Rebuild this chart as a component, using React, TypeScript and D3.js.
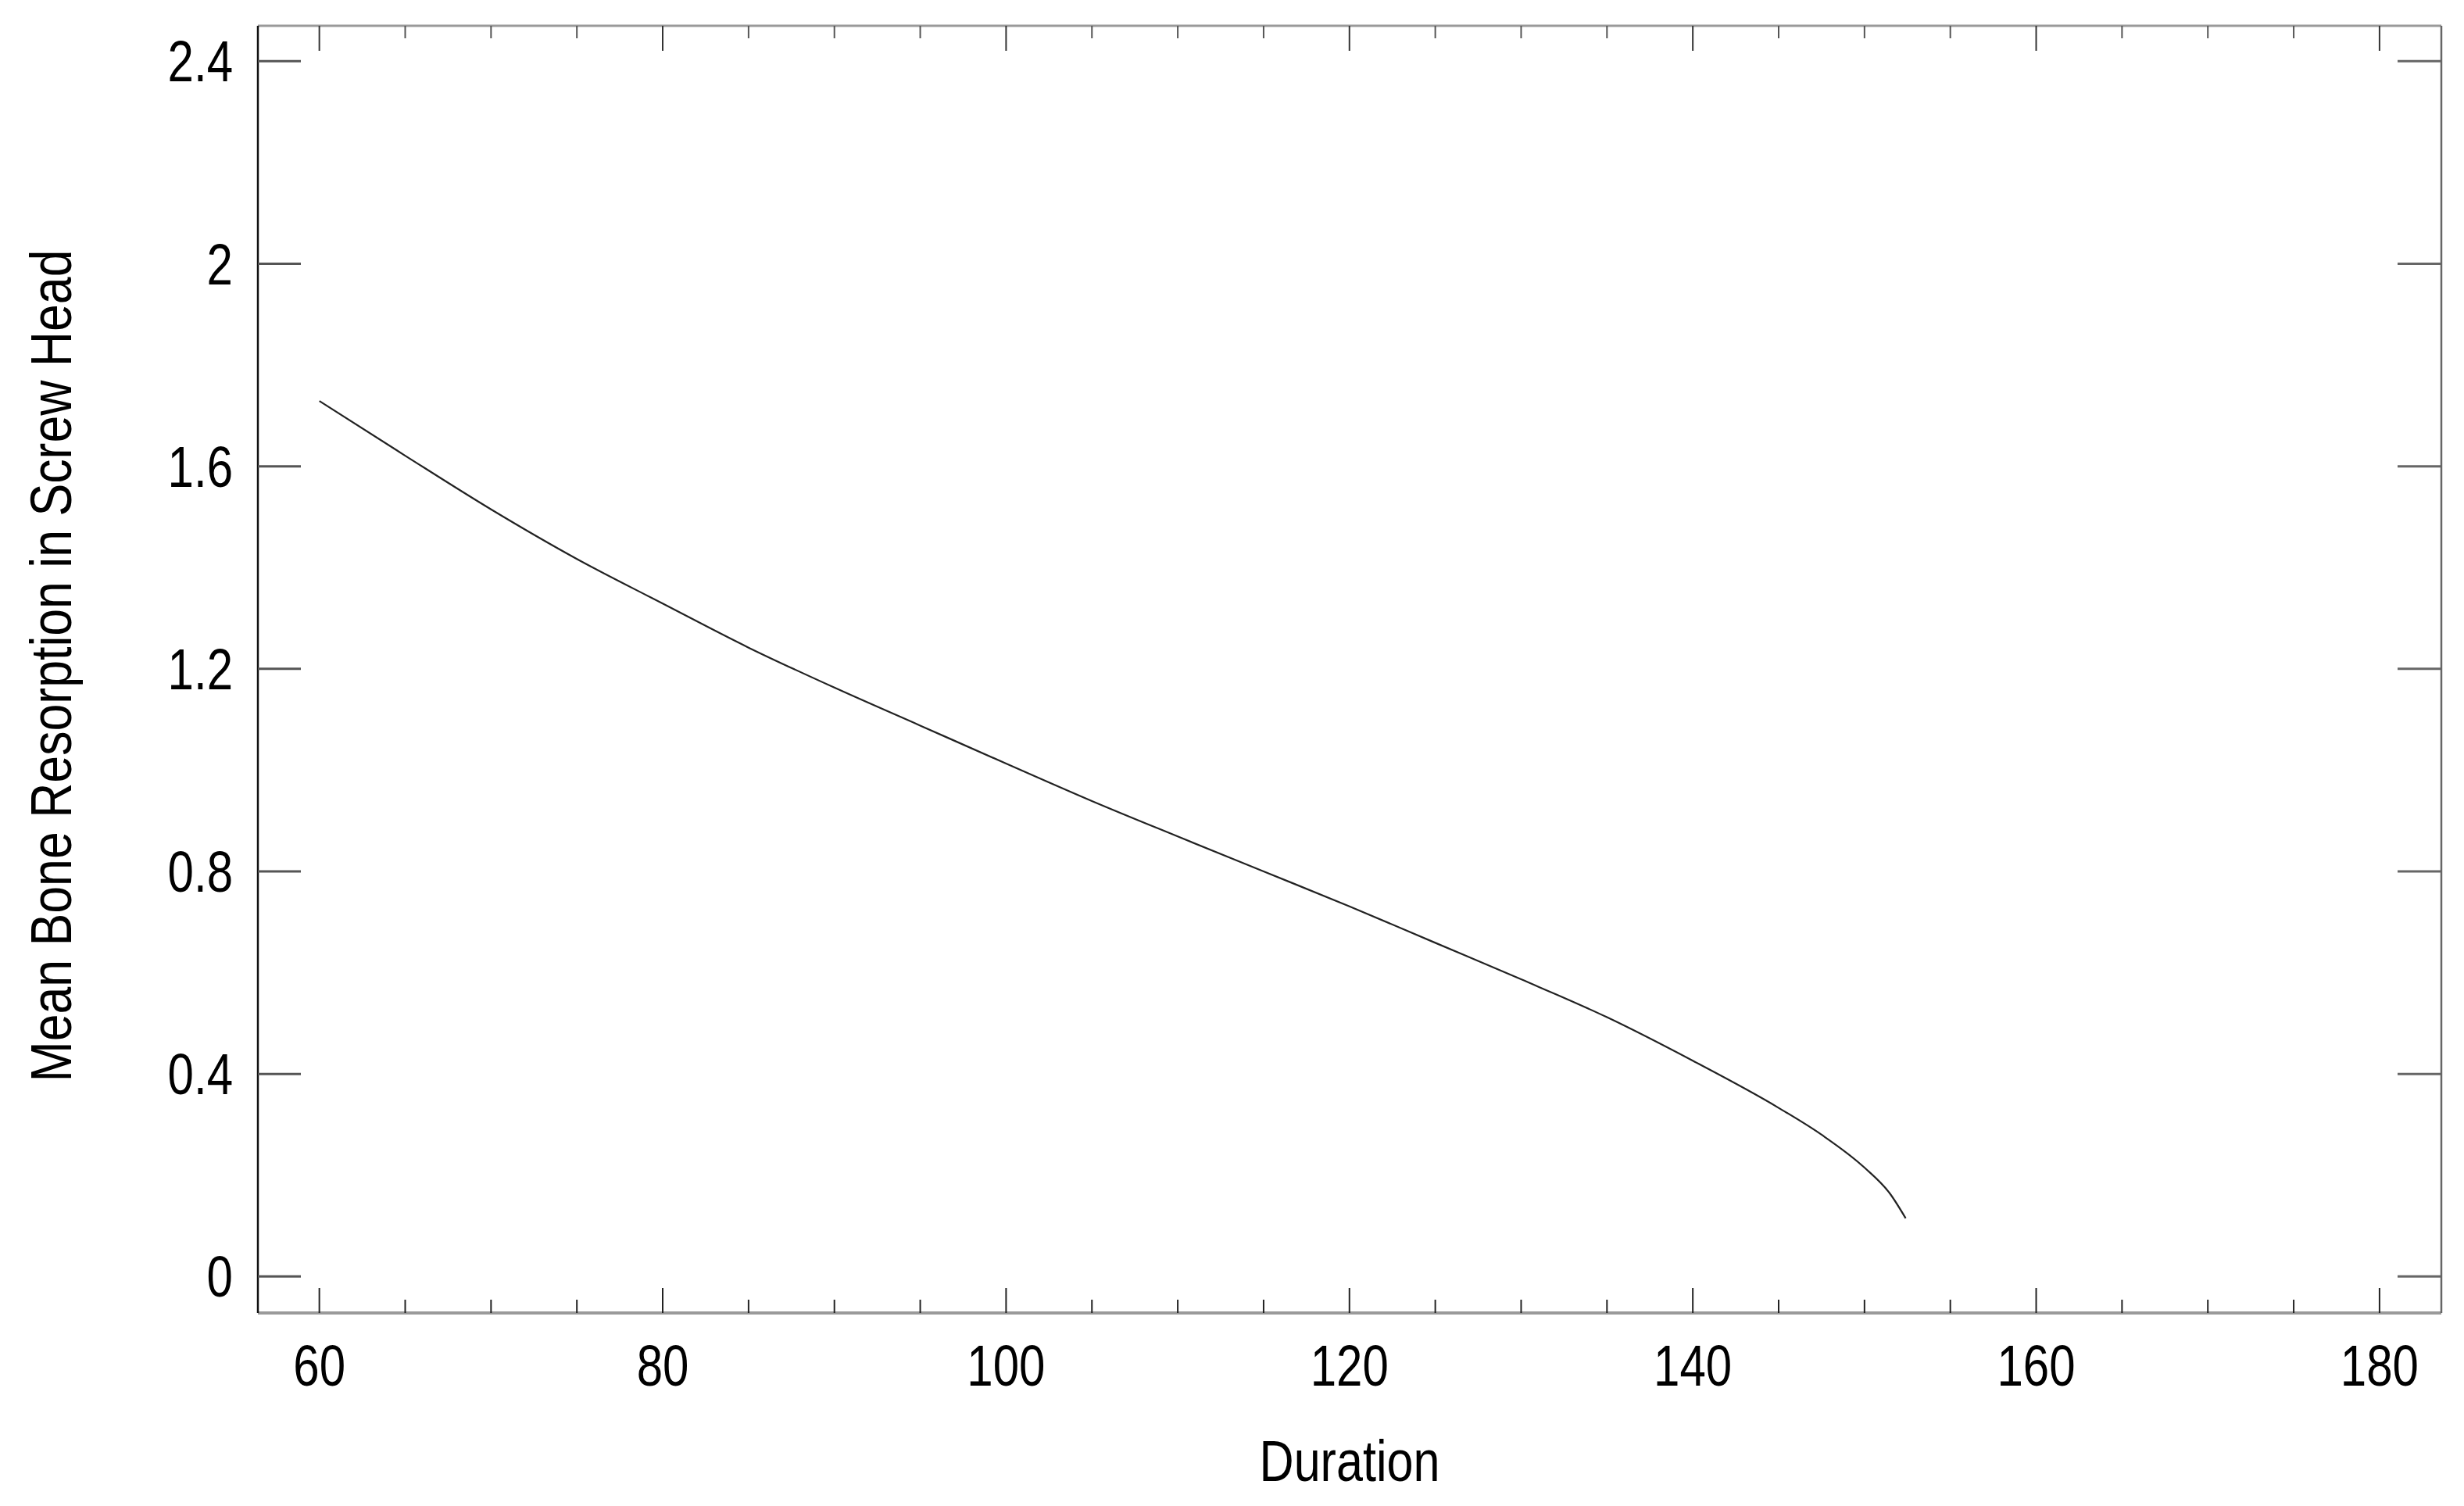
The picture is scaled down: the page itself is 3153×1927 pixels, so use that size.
import * as d3 from "d3";
import { useEffect } from "react";

const W = 3153;
const H = 1927;
const FRAME = { left: 330, right: 3124, top: 33, bottom: 1680 };

// values
const durations = [60, 65, 70, 75, 80, 85, 90, 95, 100, 105, 110, 115, 120, 125, 130, 135, 140, 145, 147.5, 150, 151.5, 152.4];
const resorption = [1.729, 1.621, 1.515, 1.417, 1.329, 1.242, 1.163, 1.088, 1.013, 0.939, 0.869, 0.8, 0.731, 0.659, 0.587, 0.512, 0.426, 0.333, 0.28, 0.215, 0.163, 0.115];

const xMajorTicks = [60, 80, 100, 120, 140, 160, 180];
const xMinorTicks = [65, 70, 75, 85, 90, 95, 105, 110, 115, 125, 130, 135, 145, 150, 155, 165, 170, 175];
const yTicks = [0, 0.4, 0.8, 1.2, 1.6, 2, 2.4];
const yTickLabels = ["0", "0.4", "0.8", "1.2", "1.6", "2", "2.4"];

const xTitle = "Duration";
const yTitle = "Mean Bone Resorption in Screw Head";

const FONT = "'Liberation Sans', Arial, sans-serif";
const FS = 75;

export default function App() {
  useEffect(() => {
    document.body.style.margin = "0";
  }, []);

  const xScale = d3.scaleLinear().domain([56.42, 183.6]).range([FRAME.left, FRAME.right]);
  const yScale = d3.scaleLinear().domain([-0.072, 2.47]).range([FRAME.bottom, FRAME.top]);

  const data = durations.map((d, i) => ({ x: d, y: resorption[i] }));
  const line = d3
    .line<{ x: number; y: number }>()
    .x((d) => xScale(d.x))
    .y((d) => yScale(d.y))
    .curve(d3.curveMonotoneX);

  // condensed text: the reference uses a narrow face, so squeeze Liberation Sans
  const label = (x: number, y: number, text: string, anchor: string, narrow: number, key?: string | number) => (
    <g key={key} transform={`translate(${x},${y}) scale(${narrow},1)`}>
      <text x={0} y={0} textAnchor={anchor} fontFamily={FONT} fontSize={FS} fill="#000">
        {text}
      </text>
    </g>
  );

  return (
    <svg width={W} height={H} style={{ display: "block", background: "#fff" }}>
      {/* frame */}
      <line x1={FRAME.left} x2={FRAME.right} y1={FRAME.top} y2={FRAME.top} stroke="#9a9a9a" strokeWidth={3} />
      <line x1={FRAME.left} x2={FRAME.right} y1={FRAME.bottom} y2={FRAME.bottom} stroke="#9a9a9a" strokeWidth={4} />
      <line x1={FRAME.left} x2={FRAME.left} y1={FRAME.top} y2={FRAME.bottom} stroke="#111" strokeWidth={2.5} />
      <line x1={FRAME.right} x2={FRAME.right} y1={FRAME.top} y2={FRAME.bottom} stroke="#666" strokeWidth={2.5} />

      {/* x ticks, bottom and top, pointing inward */}
      {xMajorTicks.map((t) => (
        <g key={"xM" + t}>
          <line x1={xScale(t)} x2={xScale(t)} y1={FRAME.bottom} y2={FRAME.bottom - 32} stroke="#222" strokeWidth={2} />
          <line x1={xScale(t)} x2={xScale(t)} y1={FRAME.top} y2={FRAME.top + 32} stroke="#333" strokeWidth={2} />
        </g>
      ))}
      {xMinorTicks.map((t) => (
        <g key={"xm" + t}>
          <line x1={xScale(t)} x2={xScale(t)} y1={FRAME.bottom} y2={FRAME.bottom - 17} stroke="#222" strokeWidth={2} />
          <line x1={xScale(t)} x2={xScale(t)} y1={FRAME.top} y2={FRAME.top + 16} stroke="#555" strokeWidth={2} />
        </g>
      ))}

      {/* y ticks, left and right, pointing inward */}
      {yTicks.map((t) => (
        <g key={"y" + t}>
          <line x1={FRAME.left} x2={FRAME.left + 55} y1={yScale(t)} y2={yScale(t)} stroke="#555" strokeWidth={3} />
          <line x1={FRAME.right} x2={FRAME.right - 56} y1={yScale(t)} y2={yScale(t)} stroke="#666" strokeWidth={3} />
        </g>
      ))}

      {/* tick labels */}
      {xMajorTicks.map((t) => label(xScale(t), 1773, String(t), "middle", 0.8, "xl" + t))}
      {yTicks.map((t, i) => label(298, yScale(t) + 26, yTickLabels[i], "end", 0.8, "yl" + t))}

      {/* axis titles */}
      {label(1727, 1895, xTitle, "middle", 0.815)}
      <g transform={`translate(91,852) rotate(-90) scale(0.835,1)`}>
        <text x={0} y={0} textAnchor="middle" fontFamily={FONT} fontSize={FS} fill="#000">
          {yTitle}
        </text>
      </g>

      {/* curve */}
      <path d={line(data) ?? ""} fill="none" stroke="#222" strokeWidth={2.2} />
    </svg>
  );
}
